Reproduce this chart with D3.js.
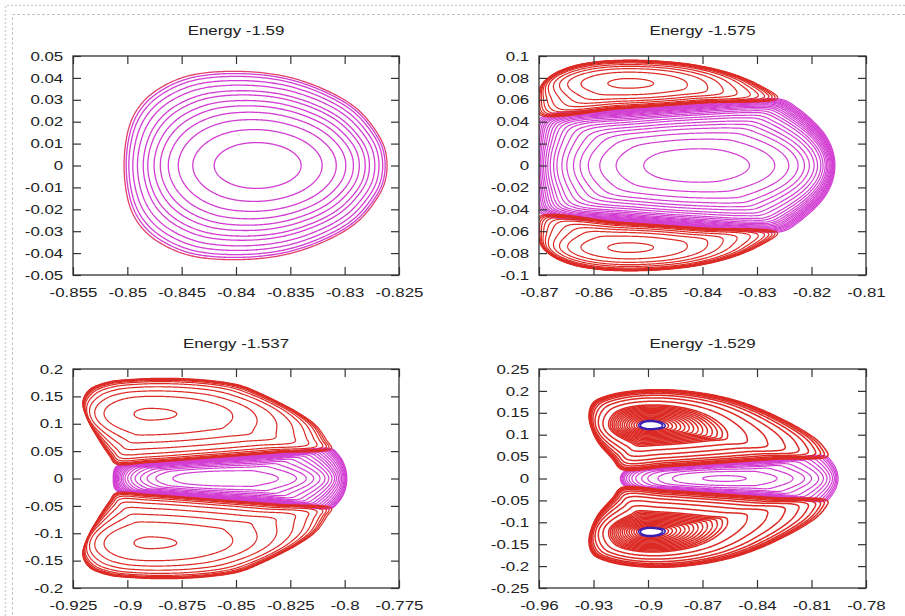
<!DOCTYPE html>
<html>
<head>
<meta charset="utf-8">
<title></title>
<script src="https://cdn.jsdelivr.net/npm/d3@7/dist/d3.min.js"></script>
<style>
  body { margin: 0; background: #fff; }
  text { font-family: "Liberation Sans", Arial, Helvetica, sans-serif; font-size: 13px; fill: #222; }
</style>
</head>
<body>
<script>
var w = 905, h = 616;

var titles = ['Energy -1.59', 'Energy -1.575', 'Energy -1.537', 'Energy -1.529'];

var p1XTicks = [-0.855, -0.85, -0.845, -0.84, -0.835, -0.83, -0.825];
var p1YTicks = [-0.05, -0.04, -0.03, -0.02, -0.01, 0, 0.01, 0.02, 0.03, 0.04, 0.05];
var p2XTicks = [-0.87, -0.86, -0.85, -0.84, -0.83, -0.82, -0.81];
var p2YTicks = [-0.1, -0.08, -0.06, -0.04, -0.02, 0, 0.02, 0.04, 0.06, 0.08, 0.1];
var p3XTicks = [-0.925, -0.9, -0.875, -0.85, -0.825, -0.8, -0.775];
var p3YTicks = [-0.2, -0.15, -0.1, -0.05, 0, 0.05, 0.1, 0.15, 0.2];
var p4XTicks = [-0.96, -0.93, -0.9, -0.87, -0.84, -0.81, -0.78];
var p4YTicks = [-0.25, -0.2, -0.15, -0.1, -0.05, 0, 0.05, 0.1, 0.15, 0.2, 0.25];

// outermost orbit of each family (upper half or upper lobe), centre,
// inner ellipse half-widths [left, right, outer side, inner side], orbit levels
// Energy -1.59
var p1BX = [-0.8261, -0.8263, -0.8269, -0.8286, -0.8311, -0.8352, -0.8400, -0.8444, -0.8472, -0.8488, -0.8498, -0.8503];
var p1BY = [0, 0.0075, 0.0140, 0.0247, 0.0329, 0.0404, 0.0430, 0.0409, 0.0347, 0.0276, 0.0182, 0];
var p1Center = [-0.838, 0];
var p1Ellipse = [0.012, 0.012, 0.030, 0.030];
var p1Levels = [0.333, 0.495, 0.604, 0.678, 0.737, 0.783, 0.829, 0.862, 0.904, 0.937, 0.966, 0.985];
var p1OuterLevels = [1.0];

// Energy -1.575
var p2MBX = [-0.8157, -0.8162, -0.8175, -0.8192, -0.8221, -0.8251, -0.8300, -0.8400, -0.8550, -0.8680, -0.8702, -0.8708, -0.8710];
var p2MBY = [0, 0.0150, 0.0280, 0.0380, 0.0507, 0.0598, 0.0606, 0.0570, 0.0515, 0.0468, 0.0410, 0.0220, 0];
var p2MCenter = [-0.841, 0];
var p2MEllipse = [0.0296, 0.0296, 0.045, 0.045];
var p2MLevels = [0.33, 0.5, 0.6, 0.67, 0.72, 0.76, 0.8, 0.83, 0.86, 0.88, 0.9, 0.915, 0.928, 0.94, 0.95, 0.96, 0.968, 0.976, 0.984, 0.992, 1.0];
var p2RBX = [-0.8262, -0.8300, -0.8350, -0.8410, -0.8470, -0.8530, -0.8590, -0.8640, -0.8675, -0.8695, -0.8703, -0.8700, -0.8550, -0.8400];
var p2RBY = [0.0616, 0.0745, 0.0845, 0.0915, 0.0950, 0.0962, 0.0950, 0.0905, 0.0830, 0.0740, 0.0620, 0.0470, 0.0518, 0.0570];
var p2RCenter = [-0.8535, 0.075];
var p2REllipse = [0.0195, 0.0225, 0.022, 0.022];
var p2RLevels = [0.2, 0.47, 0.62, 0.72, 0.8, 0.87, 0.91, 0.94, 0.96, 0.975, 0.988, 1.0];

// Energy -1.537
var p3MBX = [-0.7990, -0.7996, -0.8012, -0.8035, -0.8060, -0.8300, -0.8550, -0.8800, -0.8970, -0.9040, -0.9058, -0.9064, -0.9065];
var p3MBY = [0, 0.0180, 0.0340, 0.0460, 0.0543, 0.0471, 0.0396, 0.0321, 0.0270, 0.0245, 0.0180, 0.0090, 0];
var p3MCenter = [-0.855, 0];
var p3MEllipse = [0.054, 0.054, 0.0286, 0.0286];
var p3MLevels = [0.45, 0.6, 0.68, 0.74, 0.79, 0.83, 0.86, 0.885, 0.905, 0.92, 0.935, 0.948, 0.96, 0.97, 0.978, 0.985, 0.991, 0.996, 1.0];
var p3RBX = [-0.8060, -0.8080, -0.8127, -0.8200, -0.8280, -0.8380, -0.8480, -0.8620, -0.8800, -0.8960, -0.9090, -0.9175, -0.9205, -0.9185, -0.9130, -0.9080, -0.9055, -0.8900, -0.8600, -0.8300];
var p3RBY = [0.0548, 0.0680, 0.0949, 0.1170, 0.1346, 0.1540, 0.1700, 0.1790, 0.1830, 0.1815, 0.1760, 0.1620, 0.1400, 0.1100, 0.0700, 0.0400, 0.0270, 0.0291, 0.0381, 0.0471];
var p3RCenter = [-0.8895, 0.118];
var p3REllipse = [0.044, 0.072, 0.059, 0.066];
var p3RLevels = [0.17, 0.53, 0.68, 0.79, 0.87, 0.92, 0.95, 0.97, 0.982, 0.991, 1.0];

// Energy -1.529
var p4MBX = [-0.7954, -0.7960, -0.7975, -0.7995, -0.8020, -0.8300, -0.8600, -0.8900, -0.9100, -0.9135, -0.9148, -0.9152];
var p4MBY = [0, 0.0160, 0.0300, 0.0420, 0.0510, 0.0438, 0.0353, 0.0267, 0.0210, 0.0150, 0.0075, 0];
var p4MCenter = [-0.858, 0];
var p4MEllipse = [0.06, 0.06, 0.0324, 0.0324];
var p4MLevels = [0.2, 0.48, 0.62, 0.72, 0.78, 0.84, 0.88, 0.91, 0.935, 0.955, 0.97, 0.982, 0.991, 1.0];
var p4RBX = [-0.8010, -0.8030, -0.8073, -0.8160, -0.8257, -0.8380, -0.8532, -0.8720, -0.8916, -0.9100, -0.9230, -0.9303, -0.9325, -0.9284, -0.9193, -0.9146, -0.8900, -0.8600, -0.8300];
var p4RBY = [0.0518, 0.0700, 0.0889, 0.1130, 0.1345, 0.1580, 0.1800, 0.1960, 0.2028, 0.1990, 0.1880, 0.1725, 0.1420, 0.0889, 0.0433, 0.0210, 0.0267, 0.0353, 0.0438];
var p4RCenter = [-0.899, 0.121];
var p4REllipse = [0.0535, 0.069, 0.095, 0.073];
var p4RLevels = [0.145, 0.175, 0.205, 0.235, 0.265, 0.295, 0.325, 0.355, 0.385, 0.415, 0.445, 0.475, 0.505, 0.535, 0.64, 0.74, 0.82, 0.88, 0.92, 0.95, 0.97, 0.985, 1.0];
var p4BlueLevels = [0.1, 0.12];

var magenta = '#d23ed2', red = '#dc2a24', blue = '#3a1fb0';

var panels = [
	{title: titles[0], xt: p1XTicks, yt: p1YTicks, box: [73, 56, 399, 275], fams: [
		{kind: 'half', bx: p1BX, by: p1BY, c: p1Center, e: p1Ellipse, p: 2, q: 1, levels: p1Levels, color: magenta, sw: 1.3},
		{kind: 'half', bx: p1BX, by: p1BY, c: p1Center, e: p1Ellipse, p: 2, q: 1, levels: p1OuterLevels, color: '#e0406a', sw: 1.3}]},
	{title: titles[1], xt: p2XTicks, yt: p2YTicks, box: [539, 56, 866, 275], fams: [
		{kind: 'half', bx: p2MBX, by: p2MBY, c: p2MCenter, e: p2MEllipse, p: 2, q: 1, levels: p2MLevels, color: magenta, sw: 1.2},
		{kind: 'lobes', bx: p2RBX, by: p2RBY, c: p2RCenter, e: p2REllipse, p: 2, q: 1, levels: p2RLevels, color: red, sw: 1.2}]},
	{title: titles[2], xt: p3XTicks, yt: p3YTicks, box: [73, 369, 399, 588], fams: [
		{kind: 'half', bx: p3MBX, by: p3MBY, c: p3MCenter, e: p3MEllipse, p: 2, q: 1, levels: p3MLevels, color: magenta, sw: 1.2},
		{kind: 'lobes', bx: p3RBX, by: p3RBY, c: p3RCenter, e: p3REllipse, p: 2, q: 1, levels: p3RLevels, color: red, sw: 1.2}]},
	{title: titles[3], xt: p4XTicks, yt: p4YTicks, box: [539, 369, 866, 588], fams: [
		{kind: 'half', bx: p4MBX, by: p4MBY, c: p4MCenter, e: p4MEllipse, p: 2, q: 1, levels: p4MLevels, color: magenta, sw: 1.2},
		{kind: 'lobes', bx: p4RBX, by: p4RBY, c: p4RCenter, e: p4REllipse, p: 1, q: 1, levels: p4RLevels, color: red, sw: 1.5},
		{kind: 'lobes', bx: p4RBX, by: p4RBY, c: p4RCenter, e: p4REllipse, p: 1, q: 1, levels: p4BlueLevels, color: blue, sw: 1.6}]}
];

var svg = d3.select('body').append('svg').attr('width', w).attr('height', h);

// page border of the screenshot
svg.append('path').attr('d', 'M905,5.5H5.5V616').attr('fill', 'none')
	.attr('stroke', '#cfcfcf').attr('stroke-width', 1.5).attr('stroke-dasharray', '2,2');
svg.append('path').attr('d', 'M905,14.5H12.5V616').attr('fill', 'none')
	.attr('stroke', '#c4c4c4').attr('stroke-width', 1).attr('stroke-dasharray', '3,2');

function fmt(d) { return String(+d.toFixed(4)); }

function sampleLoop(pts) {
	var path = svg.append('path').attr('d', d3.line().curve(d3.curveCatmullRomClosed.alpha(0.5))(pts));
	var node = path.node(), len = node.getTotalLength();
	var out = d3.range(400).map(function(i) {
		var p = node.getPointAtLength(len * i / 400);
		return [p.x, p.y];
	});
	path.remove();
	return out;
}

function drawFamily(g, fam, x, y) {
	var upper = fam.bx.map(function(d, i) { return [d, fam.by[i]]; });
	var loops, centers;
	if (fam.kind === 'half') {
		var lower = upper.slice(1, -1).reverse().map(function(p) { return [p[0], -p[1]]; });
		loops = [upper.concat(lower)];
		centers = [fam.c];
	} else {
		loops = [upper, upper.map(function(p) { return [p[0], -p[1]]; })];
		centers = [fam.c, [fam.c[0], -fam.c[1]]];
	}
	loops.forEach(function(loop, k) {
		var samp = sampleLoop(loop.map(function(p) { return [x(p[0]), y(p[1])]; }));
		var c = centers[k], cx = x(c[0]), cy = y(c[1]);
		var eL = x(c[0]) - x(c[0] - fam.e[0]), eR = x(c[0] + fam.e[1]) - cx,
			eO = Math.abs(y(c[1] + fam.e[2]) - cy), eI = Math.abs(y(c[1] + fam.e[3]) - cy);
		fam.levels.forEach(function(lam) {
			// small orbits are ellipses, outer ones take the shape of the separatrix
			var wt = Math.pow(1 - Math.pow(lam, fam.p), fam.q);
			var ring = samp.map(function(p) {
				var dx = p[0] - cx, dy = p[1] - cy, phi = Math.atan2(dy, dx);
				var outer = k === 0 ? dy < 0 : dy > 0;
				var a = dx < 0 ? eL : eR, b = outer ? eO : eI;
				var r = 1 / Math.sqrt(Math.pow(Math.cos(phi) / a, 2) + Math.pow(Math.sin(phi) / b, 2));
				return [cx + lam * ((1 - wt) * dx + wt * r * Math.cos(phi)),
						cy + lam * ((1 - wt) * dy + wt * r * Math.sin(phi))];
			});
			g.append('path')
				.attr('d', d3.line().curve(d3.curveLinearClosed)(ring))
				.attr('fill', 'none')
				.attr('stroke', fam.color)
				.attr('stroke-width', fam.sw);
		});
	});
}

var stretch = 'scale(1.3,1)';

panels.forEach(function(p, i) {
	var b = p.box;
	var x = d3.scaleLinear().domain([p.xt[0], p.xt[p.xt.length - 1]]).range([b[0], b[2]]);
	var y = d3.scaleLinear().domain([p.yt[0], p.yt[p.yt.length - 1]]).range([b[3], b[1]]);

	svg.append('clipPath').attr('id', 'clip' + i)
		.append('rect').attr('x', b[0]).attr('y', b[1]).attr('width', b[2] - b[0]).attr('height', b[3] - b[1]);

	var g = svg.append('g').attr('clip-path', 'url(#clip' + i + ')');
	p.fams.forEach(function(f) { drawFamily(g, f, x, y); });

	var ax = [
		svg.append('g').attr('transform', 'translate(0,' + b[3] + ')')
			.call(d3.axisBottom(x).tickValues(p.xt).tickFormat(fmt).tickSizeInner(-8).tickSizeOuter(0).tickPadding(13)),
		svg.append('g').attr('transform', 'translate(0,' + b[1] + ')')
			.call(d3.axisTop(x).tickValues(p.xt).tickFormat('').tickSizeInner(-8).tickSizeOuter(0)),
		svg.append('g').attr('transform', 'translate(' + b[0] + ',0)')
			.call(d3.axisLeft(y).tickValues(p.yt).tickFormat(fmt).tickSizeInner(-8).tickSizeOuter(0).tickPadding(7.5)),
		svg.append('g').attr('transform', 'translate(' + b[2] + ',0)')
			.call(d3.axisRight(y).tickValues(p.yt).tickFormat('').tickSizeInner(-8).tickSizeOuter(0))
	];
	ax.forEach(function(a) {
		a.select('.domain').remove();
		a.selectAll('line').attr('stroke', '#333').attr('stroke-width', 1.2);
		a.selectAll('text').attr('fill', '#1e1e1e').attr('transform', stretch)
			.style('font-size', '13px')
			.style('font-family', '"Liberation Sans", Arial, sans-serif');
	});

	svg.append('rect').attr('x', b[0]).attr('y', b[1]).attr('width', b[2] - b[0]).attr('height', b[3] - b[1])
		.attr('fill', 'none').attr('stroke', '#333').attr('stroke-width', 1.3);

	svg.append('text')
		.attr('transform', 'translate(' + ((b[0] + b[2]) / 2) + ',' + (b[1] - 21) + ') ' + stretch)
		.attr('text-anchor', 'middle').attr('fill', '#1e1e1e').text(p.title);
});
</script>
</body>
</html>
